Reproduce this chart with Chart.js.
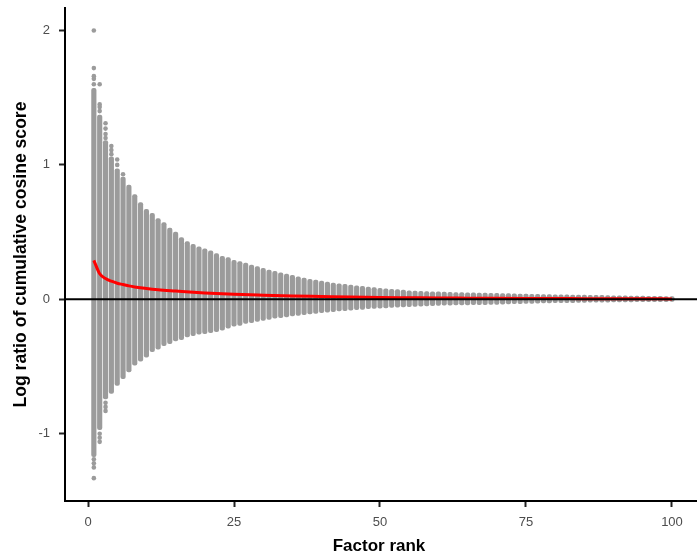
<!DOCTYPE html>
<html>
<head>
<meta charset="utf-8">
<script src="https://cdn.jsdelivr.net/npm/chart.js@4"></script>
<style>
  html, body { margin: 0; padding: 0; background: #fff; }
  #wrap { width: 697px; height: 557px; }
</style>
</head>
<body>
<div id="wrap"><canvas id="rankChart" width="697" height="557"></canvas></div>
<script>
// factor ranks
const ranks = [1,2,3,4,5,6,7,8,9,10,11,12,13,14,15,16,17,18,19,20,
  21,22,23,24,25,26,27,28,29,30,31,32,33,34,35,36,37,38,39,40,
  41,42,43,44,45,46,47,48,49,50,51,52,53,54,55,56,57,58,59,60,
  61,62,63,64,65,66,67,68,69,70,71,72,73,74,75,76,77,78,79,80,
  81,82,83,84,85,86,87,88,89,90,91,92,93,94,95,96,97,98,99,100];

// upper / lower extent of the dense point column at each rank
const colMax = [1.57,1.37,1.18,1.06,0.97,0.91,0.85,0.78,0.72,0.67,
  0.64,0.60,0.57,0.53,0.50,0.46,0.43,0.41,0.39,0.375,
  0.36,0.34,0.32,0.31,0.29,0.28,0.27,0.255,0.243,0.23,
  0.218,0.208,0.198,0.188,0.178,0.168,0.158,0.149,0.144,0.136,
  0.129,0.121,0.116,0.111,0.106,0.101,0.096,0.092,0.087,0.082,
  0.079,0.074,0.072,0.069,0.064,0.062,0.060,0.058,0.056,0.055,
  0.054,0.052,0.051,0.050,0.049,0.048,0.047,0.046,0.045,0.044,
  0.043,0.042,0.041,0.040,0.039,0.038,0.037,0.036,0.035,0.034,
  0.033,0.033,0.032,0.031,0.031,0.030,0.029,0.029,0.028,0.027,
  0.026,0.026,0.025,0.024,0.024,0.023,0.023,0.022,0.021,0.020];

const colMin = [-1.17,-0.97,-0.74,-0.70,-0.64,-0.59,-0.54,-0.49,-0.46,-0.43,
  -0.39,-0.37,-0.345,-0.33,-0.31,-0.30,-0.28,-0.27,-0.26,-0.255,
  -0.248,-0.24,-0.23,-0.214,-0.20,-0.194,-0.18,-0.174,-0.164,-0.157,
  -0.149,-0.141,-0.137,-0.13,-0.124,-0.119,-0.114,-0.109,-0.104,-0.10,
  -0.095,-0.092,-0.087,-0.085,-0.08,-0.077,-0.075,-0.07,-0.067,-0.065,
  -0.063,-0.061,-0.059,-0.057,-0.055,-0.053,-0.051,-0.049,-0.047,-0.045,
  -0.044,-0.043,-0.042,-0.042,-0.041,-0.040,-0.039,-0.039,-0.038,-0.037,
  -0.036,-0.035,-0.033,-0.032,-0.031,-0.030,-0.029,-0.027,-0.026,-0.025,
  -0.025,-0.024,-0.024,-0.023,-0.023,-0.022,-0.022,-0.021,-0.021,-0.020,
  -0.020,-0.019,-0.019,-0.018,-0.018,-0.018,-0.017,-0.017,-0.017,-0.016];

// isolated points outside the dense columns
const outlierRank = [1,1,1,1,1,1,1,1,1, 2,2,2,2,2,2,2, 3,3,3,3,3,3,3, 4,4,4, 5,5, 6];
const outlierValue = [2.0,1.72,1.66,1.64,1.60,-1.19,-1.22,-1.25,-1.33,
  1.60,1.45,1.43,1.40,-1.00,-1.03,-1.06,
  1.31,1.27,1.23,1.20,-0.77,-0.80,-0.83,
  1.14,1.11,1.08, 1.04,1.00, 0.93];

// mean log ratio per rank (red curve)
const meanRank = [1,2,3,4,5,6,7,8,9,10,12,15,20,25,30,35,40,45,50,55,60,65,70,75,80,85,90,95,100];
const meanValue = [0.29,0.19,0.155,0.135,0.12,0.11,0.10,0.092,0.086,0.08,0.071,0.062,0.048,0.038,
  0.031,0.025,0.021,0.017,0.014,0.012,0.010,0.009,0.008,0.007,0.006,0.005,0.004,0.004,0.003];

const xTicks = [0, 25, 50, 75, 100];
const yTicks = [-1, 0, 1, 2];

const grey = "#9b9b9b";
const fontFamily = "'Liberation Sans', Arial, sans-serif";
const tickFont = { family: fontFamily, size: 13 };

// black line at y = 0, and the x axis line carried on to the right edge
const zeroLine = {
  id: "zeroLine",
  afterDatasetsDraw(chart) {
    const { ctx, chartArea, scales } = chart;
    const y = scales.y.getPixelForValue(0);
    ctx.save();
    ctx.strokeStyle = "#000";
    ctx.lineWidth = 2;
    ctx.beginPath();
    ctx.moveTo(chartArea.left, y);
    ctx.lineTo(chart.width, y);
    ctx.stroke();
    ctx.restore();
  },
  afterDraw(chart) {
    const { ctx, chartArea, scales } = chart;
    const y = Math.round(scales.x.top);
    ctx.save();
    ctx.strokeStyle = "#000";
    ctx.lineWidth = 2;
    ctx.beginPath();
    ctx.moveTo(chartArea.right - 1, y);
    ctx.lineTo(chart.width, y);
    ctx.stroke();
    ctx.restore();
  },
};

const ctx = document.getElementById("rankChart").getContext("2d");

new Chart(ctx, {
  type: "bar",
  data: {
    datasets: [
      {
        type: "line",
        label: "Mean",
        data: meanRank.map((r, i) => ({ x: r, y: meanValue[i] })),
        borderColor: "#ff0000",
        borderWidth: 3,
        pointRadius: 0,
        cubicInterpolationMode: "monotone",
        order: 0,
      },
      {
        type: "scatter",
        label: "Outliers",
        data: outlierRank.map((r, i) => ({ x: r, y: outlierValue[i] })),
        backgroundColor: grey,
        borderWidth: 0,
        pointRadius: 2.3,
        order: 1,
      },
      {
        type: "bar",
        label: "Columns",
        data: ranks.map((r, i) => ({ x: r, y: [colMin[i], colMax[i]] })),
        backgroundColor: grey,
        borderWidth: 0,
        borderRadius: 2,
        borderSkipped: false,
        barThickness: 4.5,
        order: 2,
      },
    ],
  },
  options: {
    responsive: false,
    animation: false,
    layout: { padding: { top: 8, left: 0, right: 0, bottom: 0 } },
    plugins: {
      legend: { display: false },
      tooltip: { enabled: false },
    },
    scales: {
      x: {
        type: "linear",
        offset: false,
        min: -3.94,
        max: 103.6,
        afterBuildTicks: (s) => { s.ticks = xTicks.map((v) => ({ value: v })); },
        afterFit: (s) => { s.height = 56; s.paddingLeft = 0; s.paddingRight = 0; },
        grid: { display: true, offset: false, drawOnChartArea: false, drawTicks: true,
          tickLength: 6, tickColor: "#222", tickWidth: 2 },
        border: { display: true, color: "#000", width: 2 },
        ticks: { color: "#4d4d4d", font: tickFont, padding: 8, maxRotation: 0 },
        title: { display: true, text: "Factor rank", color: "#000",
          font: { family: fontFamily, size: 17, weight: "bold" },
          padding: { top: 0, bottom: 0 } },
      },
      y: {
        type: "linear",
        min: -1.5,
        max: 2.167,
        afterBuildTicks: (s) => { s.ticks = yTicks.map((v) => ({ value: v })); },
        afterFit: (s) => { s.width = 65; s.paddingTop = 0; s.paddingBottom = 0; },
        grid: { display: true, drawOnChartArea: false, drawTicks: true,
          tickLength: 6, tickColor: "#222", tickWidth: 2 },
        border: { display: true, color: "#000", width: 2 },
        ticks: { color: "#4d4d4d", font: tickFont, padding: 9 },
        title: { display: true, text: "Log ratio of cumulative cosine score", color: "#000",
          font: { family: fontFamily, size: 17.6, weight: "bold" },
          padding: { top: 11, bottom: 0 } },
      },
    },
  },
  plugins: [zeroLine],
});
</script>
</body>
</html>
